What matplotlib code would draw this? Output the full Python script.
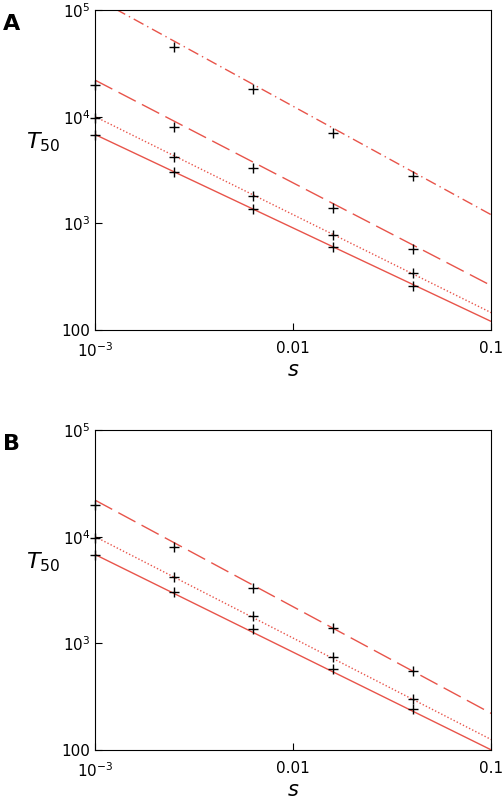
import matplotlib
matplotlib.use("Agg")
import matplotlib.pyplot as plt
from matplotlib.ticker import FixedLocator, FixedFormatter, NullLocator

s_pts = [0.001, 0.0025, 0.0063, 0.0158, 0.04]
s_line = [0.001, 0.1]

A_solid = [6800, 3000, 1350, 600, 260]
A_dot = [9800, 4200, 1800, 780, 340]
A_dash = [20000, 8000, 3300, 1400, 580]
A_dd = [None, 45000, 18000, 7000, 2800]
A_solid_line = [6800, 120]
A_dot_line = [10000, 145]
A_dash_line = [22000, 260]
A_dd_line = [130000, 1200]

B_solid = [6800, 3000, 1350, 580, 240]
B_dot = [9800, 4200, 1800, 750, 300]
B_dash = [20000, 8000, 3300, 1400, 550]
B_solid_line = [6800, 100]
B_dot_line = [10000, 125]
B_dash_line = [22000, 220]

red = "#e8544a"
fig = plt.figure(figsize=(5.03, 8), dpi=100)

def panel(rect, label, series):
    ax = fig.add_axes(rect)
    for pts, line, ls in series:
        ax.plot(s_line, line, color=red, lw=1, linestyle=ls)
        xs = [x for x, y in zip(s_pts, pts) if y is not None]
        ys = [y for y in pts if y is not None]
        ax.plot(xs, ys, '+', color='black', ms=7, mew=1, clip_on=False)
    ax.set_xscale('log'); ax.set_yscale('log')
    ax.set_xlim(0.001, 0.1); ax.set_ylim(100, 1e5)
    ax.xaxis.set_major_locator(FixedLocator([0.001, 0.01, 0.1]))
    ax.xaxis.set_major_formatter(FixedFormatter([r'$10^{-3}$', '0.01', '0.1']))
    ax.yaxis.set_major_locator(FixedLocator([100, 1e3, 1e4, 1e5]))
    ax.yaxis.set_major_formatter(FixedFormatter(['100', r'$10^3$', r'$10^4$', r'$10^5$']))
    ax.xaxis.set_minor_locator(NullLocator()); ax.yaxis.set_minor_locator(NullLocator())
    ax.tick_params(direction='in', labelsize=11, length=5)
    ax.tick_params(axis='x', pad=8)
    ax.set_xlabel('s', fontsize=15, fontstyle='italic', labelpad=0)
    ax.set_ylabel(r'$T_{\mathit{50}}$', fontsize=16, rotation=0)
    ax.yaxis.set_label_coords(-0.13, 0.55)
    fig.text(0.005, rect[1] + rect[3] - 0.005, label, fontsize=16, fontweight='bold', va='top')
    return ax

panel([0.189, 0.5875, 0.788, 0.4], 'A', [
    (A_solid, A_solid_line, '-'),
    (A_dot, A_dot_line, (0, (1, 1.5))),
    (A_dash, A_dash_line, (0, (14, 5))),
    (A_dd, A_dd_line, (0, (8, 3, 1, 3))),
])
panel([0.189, 0.0625, 0.788, 0.4], 'B', [
    (B_solid, B_solid_line, '-'),
    (B_dot, B_dot_line, (0, (1, 1.5))),
    (B_dash, B_dash_line, (0, (14, 5))),
])
fig.savefig('out.png', dpi=100)
